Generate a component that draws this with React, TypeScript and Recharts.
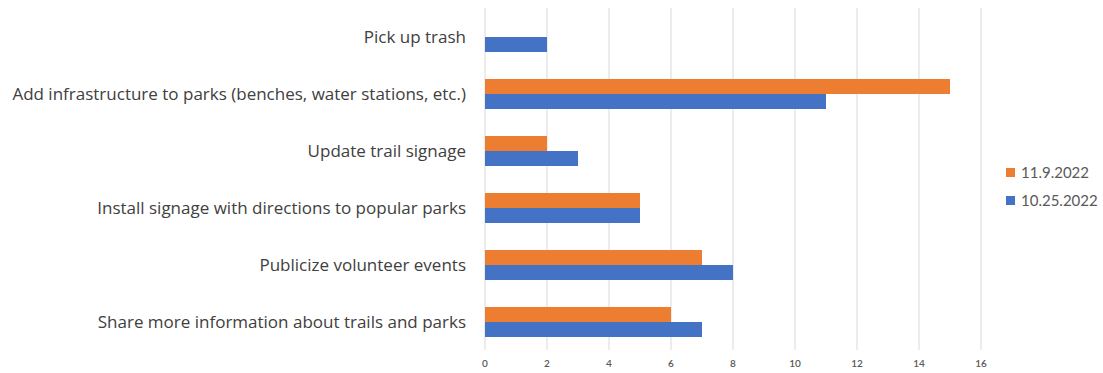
import { BarChart, Bar, XAxis, YAxis, CartesianGrid, Legend } from "recharts";

const categories = [
  "Pick up trash",
  "Add infrastructure to parks (benches, water stations, etc.)",
  "Update trail signage",
  "Install signage with directions to popular parks",
  "Publicize volunteer events",
  "Share more information about trails and parks",
];
const nov9 = [0, 15, 2, 5, 7, 6];
const oct25 = [2, 11, 3, 5, 8, 7];
const xTicks = [0, 2, 4, 6, 8, 10, 12, 14, 16];
const seriesOrder = ["nov9", "oct25"];

const ORANGE = "#ED7D31";
const BLUE = "#4472C4";

const data = categories.map((name, i) => ({ name, nov9: nov9[i], oct25: oct25[i] }));

// legend drawn by hand so it sits where the original puts it
function LegendBox({ payload }: any) {
  const items = [...(payload || [])].sort(
    (a: any, b: any) => seriesOrder.indexOf(a.dataKey) - seriesOrder.indexOf(b.dataKey)
  );
  return (
    <div>
      {items.map((p: any) => (
        <div key={p.value} style={{ display: "flex", alignItems: "center", height: 28 }}>
          <span style={{ width: 9, height: 9, background: p.color, marginRight: 6, display: "inline-block" }} />
          <span style={{ color: "#595959", fontSize: 15, fontFamily: "Lato, sans-serif" }}>{p.value}</span>
        </div>
      ))}
    </div>
  );
}

export default function App() {
  return (
    <div style={{ position: "absolute", left: 0, top: 0, width: 1103, height: 373, background: "#fff" }}>
      <BarChart
        width={1103}
        height={373}
        data={data}
        layout="vertical"
        margin={{ top: 8, right: 122, left: 0, bottom: 0 }}
        barGap={0}
        barSize={15}
      >
        <CartesianGrid horizontal={false} stroke="#d9d9d9" />
        <XAxis
          type="number"
          domain={[0, 16]}
          ticks={xTicks}
          axisLine={false}
          tickLine={false}
          tickSize={0}
          tickMargin={10}
          height={23}
          tick={{ fontSize: 10, fill: "#595959", fontFamily: "Lato, sans-serif", fontWeight: 600 }}
        />
        <YAxis
          type="category"
          dataKey="name"
          width={485}
          axisLine={false}
          tickLine={false}
          tickSize={0}
          tickMargin={19}
          interval={0}
          tick={{ fontSize: 17, fill: "#404040", fontFamily: "'Open Sans', sans-serif" }}
        />
        <Legend
          layout="vertical"
          align="center"
          verticalAlign="middle"
          content={<LegendBox />}
          wrapperStyle={{ left: 1006, top: 158, width: 100 }}
        />
        <Bar dataKey="nov9" name="11.9.2022" fill={ORANGE} isAnimationActive={false} />
        <Bar dataKey="oct25" name="10.25.2022" fill={BLUE} isAnimationActive={false} />
      </BarChart>
    </div>
  );
}
